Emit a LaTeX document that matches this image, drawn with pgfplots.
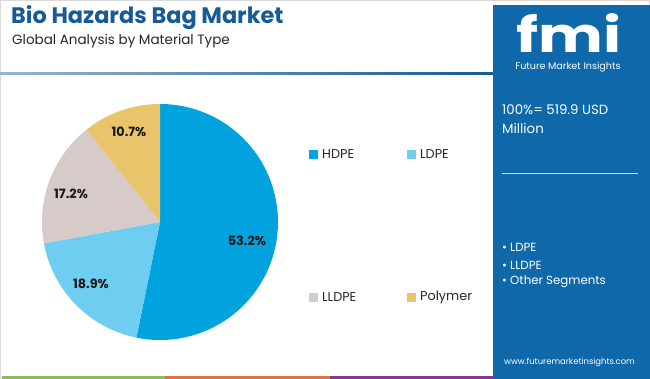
\documentclass[border=0pt]{standalone}
\usepackage{pgfplots}
\pgfplotsset{compat=1.18}
\usepackage{fontspec}
\setmainfont{Poppins}
\definecolor{hdpe}{RGB}{0,163,221}
\definecolor{ldpe}{RGB}{110,205,240}
\definecolor{lldpe}{RGB}{214,203,200}
\definecolor{polymer}{RGB}{233,196,106}
\definecolor{panel}{RGB}{14,104,170}
\definecolor{titleblue}{RGB}{22,90,150}
\definecolor{labeltxt}{RGB}{25,25,25}
\definecolor{stripgreen}{RGB}{141,186,92}
\definecolor{striporange}{RGB}{226,112,64}
\definecolor{strippurple}{RGB}{138,55,140}
% shares in percent
\def\vHDPE{53.2}
\def\vLDPE{18.9}
\def\vLLDPE{17.2}
\def\vPoly{10.7}
\begin{document}
\begin{tikzpicture}[x=1pt,y=1pt]
\useasboundingbox (0,0) rectangle (650,379);
\fill[white] (0,0) rectangle (650,379);
\draw[black!15, line width=0.8pt] (0.4,0.4) rectangle (649.6,378.6);
% title
\node[anchor=west, inner sep=0, text=titleblue, font=\bfseries\fontsize{22.4}{26}\selectfont] at (11,361) {Bio Hazards Bag Market};
\node[anchor=west, inner sep=0, text=black!85, font=\fontsize{13.5}{16}\selectfont] at (12,338) {Global Analysis by Material Type};
% rule under title
\shade[left color=titleblue!45, right color=titleblue] (0,304) rectangle (493,306);
% bottom strips
\fill[stripgreen] (2,0) rectangle (165,3);
\fill[striporange] (165,0) rectangle (330,3);
\fill[strippurple] (330,0) rectangle (493,3);
% right panel
\fill[panel] (493,0) rectangle (650,374);
\node[anchor=base, text=white, font=\bfseries\fontsize{45}{45}\selectfont, inner sep=0, xscale=1.36, yscale=1.08] at (569,326) {fmi};
\node[text=white, font=\fontsize{9.6}{11}\selectfont, inner sep=0] at (568,312) {Future Market Insights};
\node[anchor=west, text=white, font=\fontsize{13.3}{16}\selectfont, inner sep=0] at (502,269) {100\%= 519.9 USD};
\node[anchor=west, text=white, font=\fontsize{13.3}{16}\selectfont, inner sep=0] at (502,250) {Million};
\draw[white!80!panel, line width=0.9pt] (502,206) -- (638,206);
\node[anchor=west, text=white, font=\fontsize{11.8}{14}\selectfont, inner sep=0] at (502,132) {\textbullet\ LDPE};
\node[anchor=west, text=white, font=\fontsize{11.8}{14}\selectfont, inner sep=0] at (502,114) {\textbullet\ LLDPE};
\node[anchor=west, text=white, font=\fontsize{11.8}{14}\selectfont, inner sep=0] at (502,97) {\textbullet\ Other Segments};
\node[text=white, font=\fontsize{8.4}{10}\selectfont, inner sep=0] at (569.5,17) {www.futuremarketinsights.com};
% legend
\fill[hdpe] (309,220) rectangle (318,229);
\node[anchor=west, inner sep=0, font=\fontsize{12.8}{15}\selectfont, text=black!85] at (322,224.5) {HDPE};
\fill[ldpe] (407,220) rectangle (416,229);
\node[anchor=west, inner sep=0, font=\fontsize{12.8}{15}\selectfont, text=black!85] at (420,224.5) {LDPE};
\fill[lldpe] (309,77) rectangle (318,86);
\node[anchor=west, inner sep=0, font=\fontsize{12.8}{15}\selectfont, text=black!85] at (322,81.5) {LLDPE};
\fill[polymer] (407,77) rectangle (416,86);
\node[anchor=west, inner sep=0, font=\fontsize{12.8}{15}\selectfont, text=black!85] at (420,81.5) {Polymer};
% pie
\pgfmathsetmacro{\aA}{90}
\pgfmathsetmacro{\aB}{\aA-3.6*\vHDPE}
\pgfmathsetmacro{\aC}{\aB-3.6*\vLDPE}
\pgfmathsetmacro{\aD}{\aC-3.6*\vLLDPE}
\pgfmathsetmacro{\aE}{\aD-3.6*\vPoly}
\begin{axis}[at={(160pt,157pt)}, anchor=center, scale only axis,
  width=236pt, height=236pt, xmin=-1, xmax=1, ymin=-1, ymax=1,
  hide axis, clip=false]
\addplot[draw=none, fill=hdpe, domain=\aB:\aA, samples=120] ({cos(x)},{sin(x)}) -- (axis cs:0,0) -- cycle;
\addplot[draw=none, fill=ldpe, domain=\aC:\aB, samples=60] ({cos(x)},{sin(x)}) -- (axis cs:0,0) -- cycle;
\addplot[draw=none, fill=lldpe, domain=\aD:\aC, samples=60] ({cos(x)},{sin(x)}) -- (axis cs:0,0) -- cycle;
\addplot[draw=none, fill=polymer, domain=\aE:\aD, samples=40] ({cos(x)},{sin(x)}) -- (axis cs:0,0) -- cycle;
\node[font=\bfseries\fontsize{12.8}{15}\selectfont, text=labeltxt] at (axis cs:0.737,-0.161) {53.2\%};
\node[font=\bfseries\fontsize{12.8}{15}\selectfont, text=labeltxt] at (axis cs:-0.585,-0.525) {18.9\%};
\node[font=\bfseries\fontsize{12.8}{15}\selectfont, text=labeltxt] at (axis cs:-0.754,0.237) {17.2\%};
\node[font=\bfseries\fontsize{12.8}{15}\selectfont, text=labeltxt] at (axis cs:-0.263,0.763) {10.7\%};
\end{axis}
\end{tikzpicture}
\end{document}
